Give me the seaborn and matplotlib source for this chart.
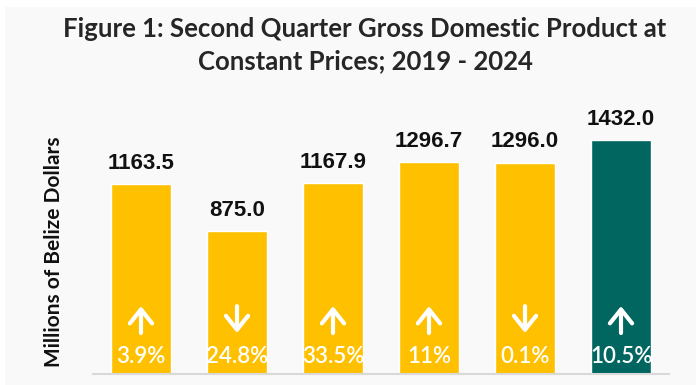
import matplotlib
matplotlib.use('Agg')
import matplotlib.pyplot as plt
import matplotlib.transforms as mtransforms
from matplotlib.patches import Rectangle
import seaborn as sns

years = ['2019', '2020', '2021', '2022', '2023', '2024']
gdp = [1163.5, 875.0, 1167.9, 1296.7, 1296.0, 1432.0]
changes = ['3.9%', '24.8%', '33.5%', '11%', '0.1%', '10.5%']
direction = ['up', 'down', 'up', 'up', 'down', 'up']

yellow = '#FFC000'
teal = '#00665F'
colors = [yellow] * 5 + [teal]

sns.set_style('white')
plt.rcParams['font.family'] = ['Lato', 'DejaVu Sans']

fig = plt.figure(figsize=(6.96, 3.85), dpi=100, facecolor='white')
# light grey panel inside a thin white border
fig.patches.append(Rectangle((5 / 696, 0), 1, 1 - 7 / 385, transform=fig.transFigure,
                             facecolor='#F9F9F9', edgecolor='none', zorder=-10))

ax = fig.add_axes([93 / 696, 11 / 385, 576 / 696, 261 / 385])
ax.set_facecolor('none')
sns.barplot(x=years, y=gdp, hue=years, palette=colors, legend=False,
            width=0.635, saturation=1, ax=ax)
ax.set_ylim(0, 1600)
ax.set_xlim(-0.5, 5.5)

for s in ['top', 'right', 'left']:
    ax.spines[s].set_visible(False)
ax.spines['bottom'].set_color('#D9D9D9')
ax.spines['bottom'].set_linewidth(1.5)
ax.set_xticks([])
ax.set_yticks([])
ax.set_xlabel('')
ax.set_ylabel('')

trans = mtransforms.blended_transform_factory(ax.transData, ax.transAxes)
for i, (v, c, d) in enumerate(zip(gdp, changes, direction)):
    ax.annotate(f'{v:.1f}', xy=(i, v), xytext=(0, 11), textcoords='offset points',
                ha='center', va='baseline', fontsize=16, fontweight='bold',
                family='Liberation Sans', color='#111111')
    ax.text(i, 0.042, c, transform=trans, ha='center', va='baseline',
            fontsize=16, fontweight='semibold', color='white')
    tip, tail = (0.26, 0.157) if d == 'up' else (0.157, 0.26)
    ax.annotate('', xy=(i, tip), xytext=(i, tail), xycoords=trans, textcoords=trans,
                arrowprops=dict(arrowstyle='->,head_length=0.5,head_width=0.4',
                                lw=3, color='white', shrinkA=0, shrinkB=0,
                                mutation_scale=20))

fig.text(365 / 696, 1 - 45 / 385,
         'Figure 1: Second Quarter Gross Domestic Product at\nConstant Prices; 2019 - 2024',
         ha='center', va='center', fontsize=18.5, fontweight='bold', color='#262626',
         linespacing=1.38)
fig.text(54 / 696, 1 - 252 / 385, 'Millions of Belize Dollars', rotation=90,
         ha='center', va='center', fontsize=15, fontweight='bold', color='#111111')

fig.savefig('out.png', dpi=100, facecolor=fig.get_facecolor())
